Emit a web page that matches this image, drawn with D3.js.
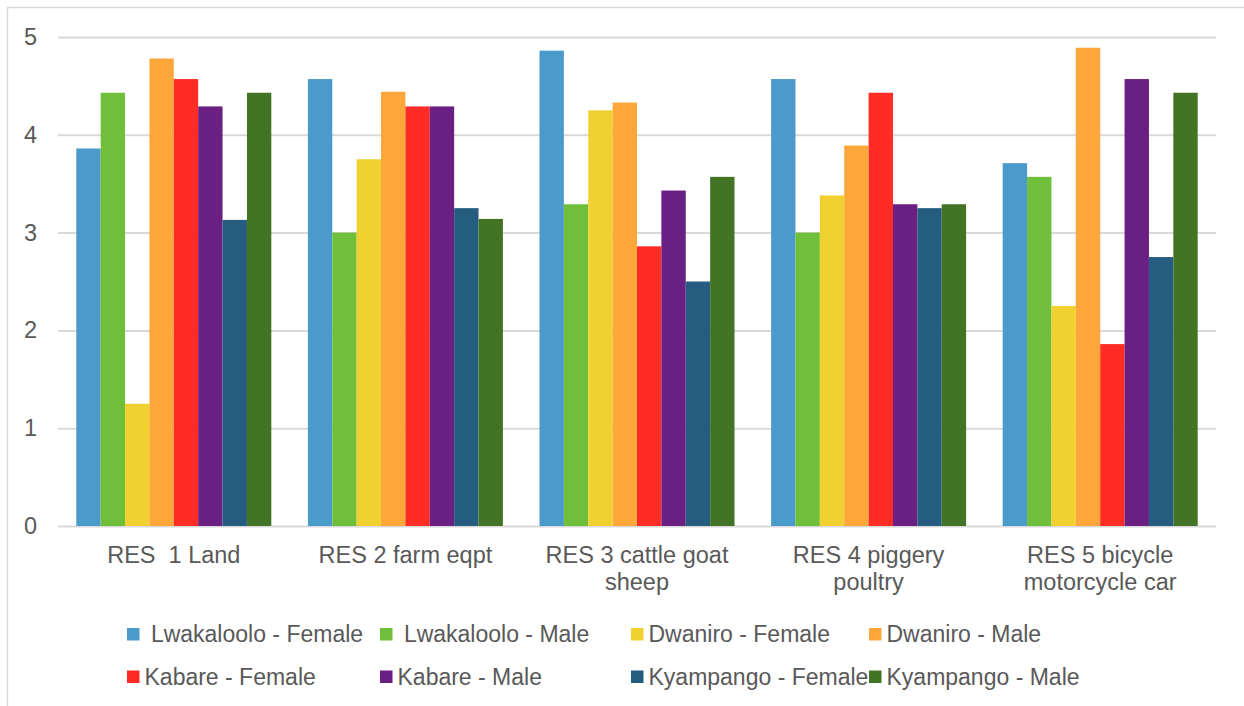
<!DOCTYPE html>
<html>
<head>
<meta charset="utf-8">
<script src="https://cdn.jsdelivr.net/npm/d3@7"></script>
<style>
  html, body { margin: 0; padding: 0; background: #fff; }
  svg { display: block; font-family: "Liberation Sans", Arial, sans-serif; }
</style>
</head>
<body>
<svg id="chart" width="1244" height="706"></svg>
<script>
// Resource categories (two-line labels)
const categories = [
  ["RES  1 Land"],
  ["RES 2 farm eqpt"],
  ["RES 3 cattle goat", "sheep"],
  ["RES 4 piggery", "poultry"],
  ["RES 5 bicycle", "motorcycle car"]
];
const seriesNames = [
  " Lwakaloolo - Female", " Lwakaloolo - Male", "Dwaniro - Female", "Dwaniro - Male",
  "Kabare - Female", "Kabare - Male", "Kyampango - Female", "Kyampango - Male"
];
const seriesColors = ["#4a9bcb", "#70bf3a", "#f0d130", "#fda73a", "#fe2c24", "#6a1f83", "#245d80", "#437426"];

// Mean scores per series, one value per category
const lwakalooloFemale = [3.86, 4.57, 4.86, 4.57, 3.71];
const lwakalooloMale   = [4.43, 3.00, 3.29, 3.00, 3.57];
const dwaniroFemale    = [1.25, 3.75, 4.25, 3.38, 2.25];
const dwaniroMale      = [4.78, 4.44, 4.33, 3.89, 4.89];
const kabareFemale     = [4.57, 4.29, 2.86, 4.43, 1.86];
const kabareMale       = [4.29, 4.29, 3.43, 3.29, 4.57];
const kyampangoFemale  = [3.13, 3.25, 2.50, 3.25, 2.75];
const kyampangoMale    = [4.43, 3.14, 3.57, 3.29, 4.43];
const seriesValues = [lwakalooloFemale, lwakalooloMale, dwaniroFemale, dwaniroMale,
                      kabareFemale, kabareMale, kyampangoFemale, kyampangoMale];
const yTicks = [0, 1, 2, 3, 4, 5];

const svg = d3.select("#chart");
const plot = { left: 58, right: 1216, top: 37, bottom: 526 };
const fontSize = "23.5px";
const legendFontSize = "23px";
const textColor = "#595959";

// Outer chart frame
svg.append("rect").attr("x", 7.5).attr("y", 7.5).attr("width", 1250).attr("height", 710)
  .attr("fill", "none").attr("stroke", "#d9d9d9").attr("stroke-width", 1.5);

const x0 = d3.scaleBand().domain(d3.range(categories.length)).range([plot.left, plot.right])
  .paddingInner(0.158).paddingOuter(0.079);
const x1 = d3.scaleBand().domain(d3.range(seriesNames.length)).range([0, x0.bandwidth()]);
const y = d3.scaleLinear().domain([0, 5]).range([plot.bottom, plot.top]);

// Gridlines and y tick labels
const yAxis = d3.axisLeft(y).tickValues(yTicks).tickSize(-(plot.right - plot.left)).tickFormat(d3.format("d"));
const gy = svg.append("g").attr("transform", `translate(${plot.left},0)`).call(yAxis);
gy.select(".domain").remove();
gy.selectAll(".tick line").attr("stroke", "#d9d9d9").attr("stroke-width", 2);
gy.selectAll(".tick text").attr("x", -21).attr("fill", textColor)
  .style("font-size", fontSize).style("font-family", "Liberation Sans, Arial, sans-serif");

// Bars
const groups = svg.append("g").selectAll("g").data(categories).join("g")
  .attr("transform", (d, i) => `translate(${x0(i)},0)`);
groups.each(function(c, ci) {
  d3.select(this).selectAll("rect").data(seriesValues.map((s, si) => ({si, v: s[ci]})))
    .join("rect")
    .attr("x", d => x1(d.si))
    .attr("width", x1.bandwidth())
    .attr("y", d => y(d.v))
    .attr("height", d => y(0) - y(d.v))
    .attr("fill", d => seriesColors[d.si]);
});

// Category labels
const xAxis = svg.append("g");
categories.forEach((lines, i) => {
  const cx = x0(i) + x0.bandwidth() / 2;
  const t = xAxis.append("text")
    .attr("x", cx)
    .attr("y", 563)
    .attr("text-anchor", "middle")
    .attr("fill", textColor)
    .style("font-size", fontSize)
    .style("white-space", "pre");
  lines.forEach((ln, k) => {
    t.append("tspan").attr("x", cx).attr("dy", k === 0 ? 0 : 27).text(ln);
  });
});

// Legend (two rows of four)
const legendCols = [127, 380, 631, 869];
const legendRows = [634, 676.5];
const legend = svg.append("g");
seriesNames.forEach((name, i) => {
  const cx = legendCols[i % 4], cy = legendRows[Math.floor(i / 4)];
  legend.append("rect").attr("x", cx).attr("y", cy - 6).attr("width", 12.5).attr("height", 12.5)
    .attr("fill", seriesColors[i]);
  legend.append("text").attr("x", cx + 17.5).attr("y", cy + 8)
    .attr("fill", textColor).style("font-size", legendFontSize).style("white-space", "pre")
    .text(name);
});
</script>
</body>
</html>
